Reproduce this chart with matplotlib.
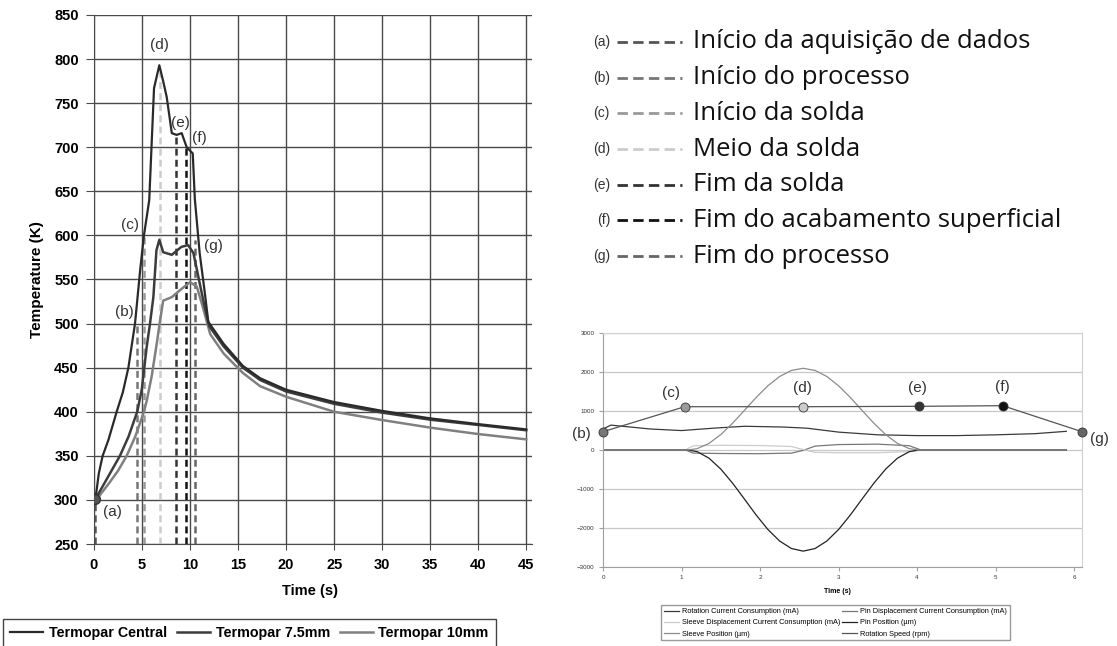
import numpy as np
import matplotlib.pyplot as plt
from matplotlib.lines import Line2D

plt.rcParams['font.family'] = ['Liberation Sans', 'DejaVu Sans']
plt.rcParams['lines.scale_dashes'] = False

# ---------------- dados: gráfico principal ----------------
t_central = [0.15, 0.5, 0.9, 1.5, 2.36, 3.0, 3.58, 4.27, 4.8, 5.2, 5.75, 6.25, 6.8, 7.2,
             7.57, 8.1, 8.6, 9.13, 9.65, 10.28, 10.5, 11.0, 11.5, 11.9, 13.5, 15.5, 17.3,
             20, 25, 30, 35, 40, 45]
temp_central = [301, 330, 350, 368, 400, 422, 450, 500, 560, 600, 640, 767, 793, 775,
                757, 716, 714, 716, 700, 693, 641, 580, 538, 502, 477, 452, 438,
                425, 411, 401, 392.5, 386, 380]

t_75 = [0.15, 1.4, 2.7, 3.6, 4.5, 4.97, 5.49, 5.83, 6.18, 6.5, 6.8, 7.2, 8.1, 9.1, 9.8,
        10.35, 11.0, 11.5, 12.0, 13.5, 15.5, 17.3, 20, 25, 30, 35, 40, 45]
temp_75 = [301, 325, 350, 372, 400, 425, 474, 500, 530, 583, 595, 581, 578, 587, 589,
           580, 546, 520, 497, 474, 450, 436, 423, 409, 399, 391, 385, 379]

t_10 = [0.3, 1.5, 2.5, 3.4, 4.3, 5.2, 5.5, 6.0, 6.5, 6.9, 7.2, 8.1, 8.96, 10.0, 10.7,
        11.3, 12.1, 13.5, 15.5, 17.3, 20, 25, 30, 35, 40, 45]
temp_10 = [301, 318, 333, 350, 372, 400, 413, 440, 475, 505, 526, 530, 538, 547, 542,
           520, 488, 466, 444, 429, 417, 400, 390.6, 382, 374.7, 368.7]

event_labels = ['(a)', '(b)', '(c)', '(d)', '(e)', '(f)', '(g)']
event_names = ['Início da aquisição de dados', 'Início do processo', 'Início da solda',
               'Meio da solda', 'Fim da solda', 'Fim do acabamento superficial',
               'Fim do processo']
event_times = [0.15, 4.45, 5.25, 6.9, 8.55, 9.6, 10.5]
event_tops = [301, 500, 600, 790, 712, 700, 595]
event_colors = ['#555555', '#777777', '#999999', '#cccccc', '#333333', '#111111', '#666666']

# ---------------- dados: gráfico pequeno ----------------
t_bell = [0, 1.08, 1.2, 1.35, 1.5, 1.65, 1.8, 1.95, 2.1, 2.25, 2.4, 2.55, 2.7, 2.85,
          3.0, 3.15, 3.3, 3.45, 3.6, 3.75, 3.9, 4.02, 5.9]
sleeve_position = [0, 0, 35, 170, 396, 688, 1016, 1349, 1651, 1891, 2046, 2100, 2046,
                   1891, 1651, 1349, 1016, 688, 396, 170, 35, 0, 0]
pin_position = [0, 0, -43, -210, -490, -852, -1258, -1670, -2044, -2341, -2533, -2600,
                -2533, -2341, -2044, -1670, -1258, -852, -490, -210, -43, 0, 0]

t_rot_cur = [0, 0.1, 0.3, 0.6, 1.0, 1.4, 1.8, 2.3, 2.6, 3.0, 3.5, 4.0, 4.5, 5.0, 5.5, 5.9]
rot_current = [540, 640, 600, 540, 500, 560, 610, 590, 560, 460, 390, 370, 370, 390, 420, 480]

t_disp = [0, 1.05, 1.15, 1.5, 2.0, 2.4, 2.55, 2.7, 3.0, 3.5, 3.9, 4.05, 5.9]
pin_disp_current = [0, 0, -80, -90, -95, -80, -10, 100, 140, 150, 110, 0, 0]
sleeve_disp_current = [0, 0, 110, 120, 115, 90, 10, -60, -70, -70, -40, 0, 0]

t_speed = [0, 1.04, 2.55, 4.02, 5.09, 6.1]
rot_speed = [470, 1113, 1113, 1123, 1139, 470]

W, H = 1117, 646
fig = plt.figure(figsize=(W / 100, H / 100), dpi=100)


def box(x0, y0, x1, y1):
    return [x0 / W, 1 - y1 / H, (x1 - x0) / W, (y1 - y0) / H]


# ---------------- gráfico principal ----------------
ax = fig.add_axes(box(94, 15, 532, 544))
ax.set_xlim(0, 45.6)
ax.set_ylim(250, 850)
ax.set_xticks(range(0, 46, 5))
ax.set_yticks(range(250, 851, 50))
ax.grid(color='#4a4a4a', lw=1.0)
ax.set_axisbelow(True)
for s in ['top', 'right']:
    ax.spines[s].set_visible(False)
for s in ['left', 'bottom']:
    ax.spines[s].set_color('#4a4a4a')
ax.tick_params(axis='y', direction='out', length=6, color='#4a4a4a', labelsize=10.5, pad=5)
ax.tick_params(axis='x', direction='out', length=4, color='#4a4a4a', labelsize=10.5, pad=6)
for lab in ax.get_xticklabels() + ax.get_yticklabels():
    lab.set_fontweight('bold')

for t, top, c in zip(event_times, event_tops, event_colors):
    ax.plot([t, t], [250, top], color=c, lw=1.8, dashes=(5, 3), zorder=2)

l10, = ax.plot(t_10, temp_10, color='#808080', lw=1.8, zorder=3)
l75, = ax.plot(t_75, temp_75, color='#3c3c3c', lw=1.8, zorder=4)
lc, = ax.plot(t_central, temp_central, color='#2a2a2a', lw=1.6, zorder=5)
ax.plot(event_times[0], temp_central[0], 'o', ms=7, color='#555555', mec='#333333', zorder=6)

label_pos = [(1.9, 286), (3.2, 513), (3.75, 612), (6.8, 816), (9.0, 728), (11.0, 710), (12.4, 588)]
for lab, (x, y) in zip(event_labels, label_pos):
    ax.text(x, y, lab, fontsize=11, color='#333333', ha='center', va='center')

ax.set_xlabel('Time (s)', fontsize=10.5, fontweight='bold')
ax.xaxis.set_label_coords(0.493, -0.075)
ax.set_ylabel('Temperature (K)', fontsize=11, fontweight='bold')
ax.yaxis.set_label_coords(-0.114, 0.5)

fig.legend([lc, l75, l10], ['Termopar Central', 'Termopar 7.5mm', 'Termopar 10mm'],
           loc='upper left', bbox_to_anchor=(3 / W, 1 - 619 / H), ncol=3,
           prop={'weight': 'bold', 'size': 10.3}, frameon=True, fancybox=False,
           edgecolor='#444444', framealpha=1, handlelength=2.3, handletextpad=0.4,
           columnspacing=0.7, borderpad=0.5, borderaxespad=0)

# ---------------- legenda dos eventos ----------------
for i, (lab, name, c) in enumerate(zip(event_labels, event_names, event_colors)):
    y = 1 - (42 + i * 35.7) / H
    fig.text(610 / W, y, lab, fontsize=10, color='#333333', ha='right', va='center')
    fig.add_artist(Line2D([617 / W, 682 / W], [y, y], transform=fig.transFigure,
                          color=c, lw=2, dashes=(7.5, 3.8)))
    fig.text(693 / W, y, name, fontsize=18.5, family=['Open Sans', 'DejaVu Sans'],
             color='#111111', ha='left', va='center')

# ---------------- gráfico pequeno ----------------
ax2 = fig.add_axes(box(603, 333.3, 1082, 566.7))
ax2.set_xlim(0, 6.1)
ax2.set_ylim(-3000, 3000)
ax2.set_xticks(range(0, 7))
ax2.set_yticks(range(-3000, 3001, 1000))
ax2.grid(axis='y', color='#c8c8c8', lw=0.9)
ax2.set_axisbelow(True)
ax2.spines['left'].set_color('#a0a0a0')
ax2.spines['bottom'].set_color('#a0a0a0')
ax2.spines['right'].set_color('#d0d0d0')
ax2.spines['top'].set_color('#d0d0d0')
ax2.tick_params(length=3, color='#a0a0a0', labelsize=4.5, labelcolor='#333333', pad=3)
ax2.set_xlabel('Time (s)', fontsize=5, fontweight='bold')
ax2.xaxis.set_label_coords(0.49, -0.09)

h_rc, = ax2.plot(t_rot_cur, rot_current, color='#3a3a3a', lw=0.9)
h_pdc, = ax2.plot(t_disp, pin_disp_current, color='#777777', lw=0.9)
h_sdc, = ax2.plot(t_disp, sleeve_disp_current, color='#cccccc', lw=0.9)
h_pp, = ax2.plot(t_bell, pin_position, color='#222222', lw=0.9)
h_sp, = ax2.plot(t_bell, sleeve_position, color='#8c8c8c', lw=0.9)
h_rs, = ax2.plot(t_speed, rot_speed, color='#555555', lw=0.9)
for t, v, c in zip(t_speed, rot_speed, event_colors[1:]):
    ax2.plot(t, v, 'o', ms=6.5, color=c, mec='#333333', mew=0.6, clip_on=False, zorder=5)

small_pos = [(-0.27, 411), (0.87, 1465), (2.54, 1586), (4.0, 1586), (5.09, 1612), (6.32, 283)]
for lab, (x, y) in zip(event_labels[1:], small_pos):
    ax2.text(x, y, lab, fontsize=11, color='#333333', ha='center', va='center', clip_on=False)

ax2.legend([h_rc, h_sdc, h_sp, h_pdc, h_pp, h_rs],
           ['Rotation Current Consumption (mA)', 'Sleeve Displacement Current Consumption (mA)',
            'Sleeve Position (µm)', 'Pin Displacement Current Consumption (mA)',
            'Pin Position (µm)', 'Rotation Speed (rpm)'],
           loc='upper left', bbox_to_anchor=((661 - 603) / 479, -(605 - 566.7) / 233.4),
           ncol=2, fontsize=5.3, frameon=True, fancybox=False, edgecolor='#999999',
           framealpha=1, handlelength=2.0, handletextpad=0.4, columnspacing=0.3,
           labelspacing=0.55, borderpad=0.4, borderaxespad=0)

fig.savefig('out.png', dpi=100)
